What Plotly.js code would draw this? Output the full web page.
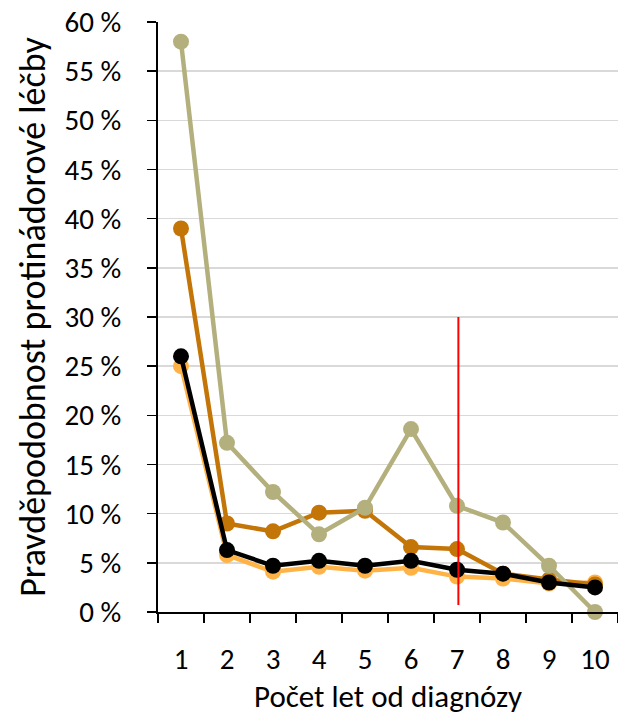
<!DOCTYPE html>
<html>
<head>
<meta charset="utf-8">
<script src="https://cdn.plot.ly/plotly-3.0.1.min.js"></script>
<style>
html,body{margin:0;padding:0;background:#fff;}
#chart{width:618px;height:715px;}
</style>
</head>
<body>
<div id="chart"></div>
<script>
const years = ['1','2','3','4','5','6','7','8','9','10'];
const seriesLight = [25.0, 5.8, 4.1, 4.6, 4.2, 4.5, 3.6, 3.4, 2.9, 3.0];
const seriesDark  = [39.0, 9.0, 8.2, 10.1, 10.3, 6.6, 6.4, 3.9, 3.3, 2.8];
const seriesKhaki = [58.0, 17.2, 12.2, 7.9, 10.6, 18.6, 10.8, 9.1, 4.7, 0.0];
const seriesBlack = [26.0, 6.3, 4.7, 5.2, 4.7, 5.2, 4.3, 3.9, 3.0, 2.5];
const yTicks = [0,5,10,15,20,25,30,35,40,45,50,55,60];
const yTickLabels = yTicks.map(v => v + ' %');
const markerYear = 6.03;      // position of the red reference line (category index)
const markerRange = [0.7, 30];

const FONT = 'Carlito, Lato, "Liberation Sans", sans-serif';

function tr(y, color){
  return {x: years, y: y, type:'scatter', mode:'lines+markers',
    line:{color: color, width:4.5}, marker:{color: color, size:16},
    hoverinfo:'skip', showlegend:false, cliponaxis:false};
}

const data = [
  tr(seriesLight, '#FFB347'),
  tr(seriesDark, '#C47508'),
  tr(seriesKhaki, '#B3B07D'),
  tr(seriesBlack, '#000000')
];

const layout = {
  width:618, height:715,
  margin:{l:158, r:0, t:22, b:103},
  paper_bgcolor:'#fff', plot_bgcolor:'#fff',
  font:{family:FONT, color:'#000', size:28},
  showlegend:false,
  xaxis:{
    type:'category', categoryorder:'array', categoryarray: years,
    range:[-0.5, 9.5], tickson:'boundaries',
    ticks:'outside', ticklen:9, tickwidth:1.5, tickcolor:'#000',
    showline:true, linecolor:'#000', linewidth:2,
    showgrid:false, zeroline:false,
    tickfont:{family:FONT, size:29}, ticklabelstandoff:20,
    title:{text:'Počet let od diagnózy', font:{family:FONT, size:31}, standoff:12}
  },
  yaxis:{
    range:[0,60], tickvals:yTicks, ticktext:yTickLabels,
    ticks:'outside', ticklen:9, tickwidth:1.5, tickcolor:'#000',
    showline:true, linecolor:'#000', linewidth:2,
    showgrid:true, gridcolor:'#D9D9D9', gridwidth:1.5, zeroline:false,
    tickfont:{family:FONT, size:29}, ticklabelstandoff:20,
    title:{text:'Pravděpodobnost protinádorové léčby', font:{family:FONT, size:36}, standoff:8}
  },
  shapes:[{type:'line', xref:'x', yref:'y', x0:markerYear, x1:markerYear,
    y0:markerRange[0], y1:markerRange[1], line:{color:'#FF0000', width:2}}]
};

Plotly.newPlot('chart', data, layout, {staticPlot:true, displayModeBar:false});
</script>
</body>
</html>
